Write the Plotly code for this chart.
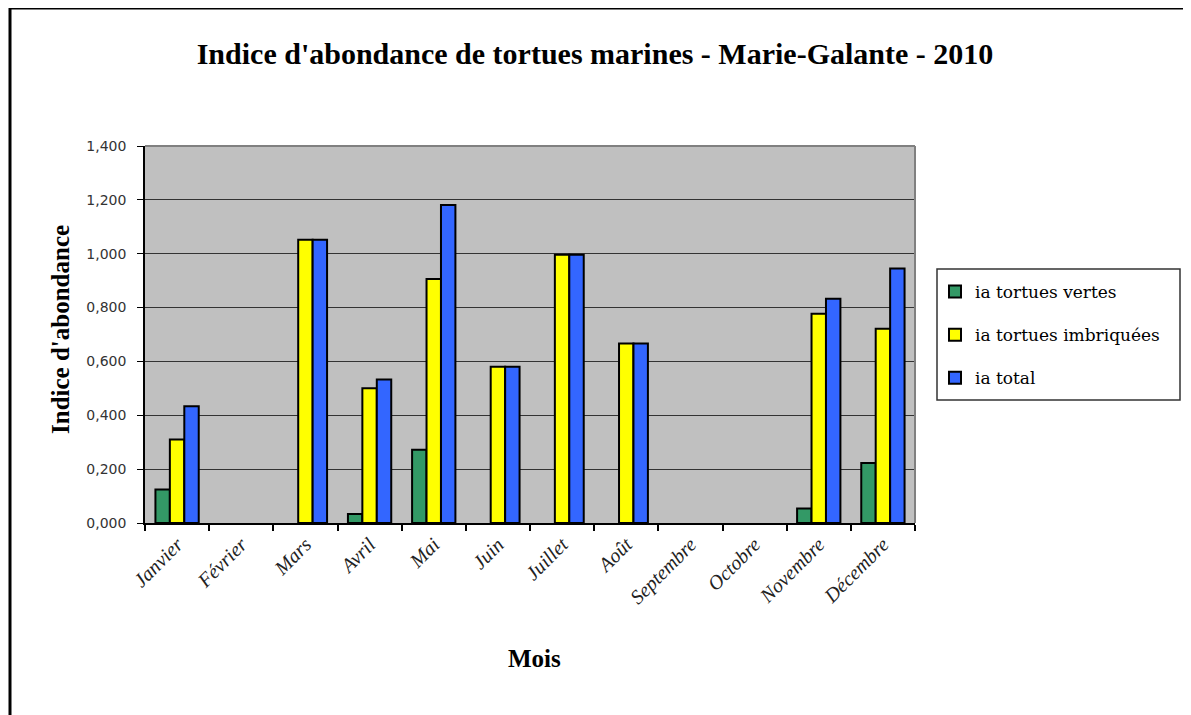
import plotly.graph_objects as go

mois = ["Janvier", "Février", "Mars", "Avril", "Mai", "Juin", "Juillet",
        "Août", "Septembre", "Octobre", "Novembre", "Décembre"]
ia_vertes = [0.124, 0, 0, 0.033, 0.272, 0, 0, 0, 0, 0, 0.054, 0.223]
ia_imbriquees = [0.310, 0, 1.052, 0.500, 0.906, 0.580, 0.996, 0.667, 0, 0, 0.777, 0.721]
ia_total = [0.434, 0, 1.052, 0.533, 1.181, 0.580, 0.996, 0.667, 0, 0, 0.833, 0.945]
y_ticks = [0, 0.2, 0.4, 0.6, 0.8, 1.0, 1.2, 1.4]

series = [
    ("ia tortues vertes", ia_vertes, "#339966"),
    ("ia tortues imbriquées", ia_imbriquees, "#FFFF00"),
    ("ia total", ia_total, "#3366FF"),
]

O = 8  # default page body margin
W, H = 1191 - O, 715 - O
L, R, T, B = 145, 915, 146, 523  # plot area in page pixels


def px_x(p):
    return (p - L) / (R - L)


def px_y(p):
    return (B - p) / (B - T)


fig = go.Figure()
for i, (name, vals, col) in enumerate(series):
    fig.add_trace(go.Bar(
        x=mois, y=[v if v > 0 else None for v in vals], name=name, legendgroup=f"g{i}",
        marker=dict(color=col, line=dict(color="black", width=2)),
    ))

serif = "Liberation Serif"
fig.update_layout(
    width=W, height=H,
    margin=dict(l=L - O, r=W + O - R, t=T - O, b=H + O - B),
    paper_bgcolor="white",
    plot_bgcolor="#C0C0C0",
    barmode="group", bargap=0.325, bargroupgap=0,
    separators=",.",
    title=dict(text="<b>Indice d'abondance de tortues marines - Marie-Galante - 2010</b>",
               xref="paper", x=px_x(595), xanchor="center",
               yref="container", y=1 - (53 - O) / H, yanchor="middle",
               font=dict(family=serif, size=30, color="black")),
    legend=dict(x=px_x(935), y=px_y(274), xanchor="left", yanchor="top",
                bgcolor="rgba(0,0,0,0)", borderwidth=0,
                traceorder="grouped", tracegroupgap=18,
                font=dict(family="DejaVu Serif", size=17, color="black"),
                itemsizing="constant"),
    showlegend=True,
    xaxis=dict(showline=True, linecolor="black", linewidth=2,
               ticks="outside", tickson="boundaries", ticklen=6, tickcolor="black", tickwidth=1.5,
               tickangle=-45,
               tickfont=dict(family=serif, size=20, color="#222222", style="italic"),
               showgrid=False, mirror=False),
    yaxis=dict(range=[0, 1.4], tickvals=y_ticks, tickformat=".3f",
               showline=True, linecolor="black", linewidth=1.5,
               ticks="outside", ticklen=6, tickcolor="black", ticklabelstandoff=8,
               tickfont=dict(family="DejaVu Sans", size=14, color="#333333"),
               showgrid=True, gridcolor="#333333", gridwidth=1,
               zeroline=False),
    annotations=[
        dict(text="<b>Indice d'abondance</b>", xref="paper", yref="paper",
             x=px_x(60), y=px_y(330), textangle=-90, showarrow=False,
             xanchor="center", yanchor="middle",
             font=dict(family=serif, size=25, color="black")),
        dict(text="<b>Mois</b>", xref="paper", yref="paper",
             x=px_x(534), y=px_y(658), showarrow=False,
             xanchor="center", yanchor="middle",
             font=dict(family=serif, size=25, color="black")),
    ],
    shapes=[
        dict(type="line", xref="paper", yref="paper", x0=0, x1=1, y0=1, y1=1,
             line=dict(color="#808080", width=2)),
        dict(type="line", xref="paper", yref="paper", x0=1, x1=1, y0=0, y1=1,
             line=dict(color="#808080", width=2)),
        dict(type="line", xref="paper", yref="paper", x0=px_x(10), x1=px_x(10),
             y0=px_y(7), y1=px_y(720), line=dict(color="black", width=3)),
        dict(type="line", xref="paper", yref="paper", x0=px_x(9), x1=px_x(1200),
             y0=px_y(8), y1=px_y(8), line=dict(color="black", width=3)),
        # legend box
        dict(type="rect", xref="paper", yref="paper",
             x0=px_x(937), x1=px_x(1180), y0=px_y(400), y1=px_y(269),
             fillcolor="white", line=dict(color="#333333", width=1.5), layer="below"),
    ],
)

fig.write_html("out.html")
